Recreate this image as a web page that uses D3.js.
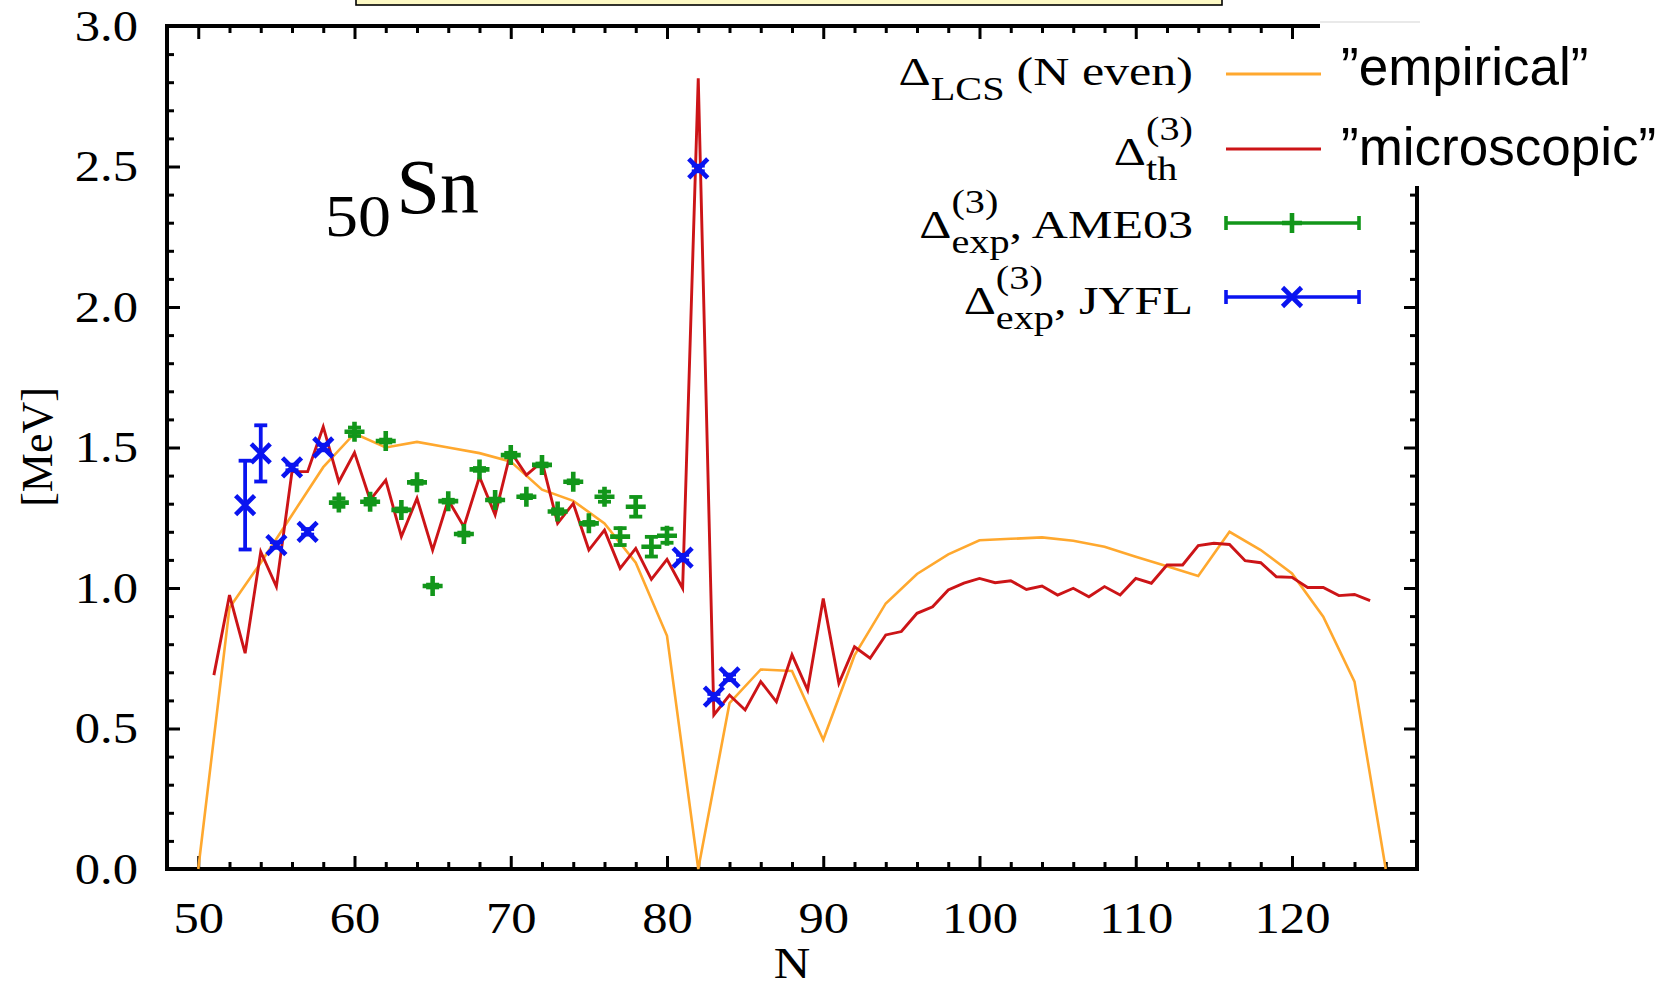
<!DOCTYPE html>
<html><head><meta charset="utf-8">
<script src="https://cdn.jsdelivr.net/npm/d3@7"></script>
<style>
html,body{margin:0;padding:0;background:#fff;}
svg{display:block;}
text{font-family:"Liberation Serif","Times New Roman",serif;fill:#000;}
text.sans{font-family:"Liberation Sans",Arial,sans-serif;}
</style></head>
<body>
<svg id="chart" width="1666" height="987"></svg>
<script>
// Δ_LCS (N even) — empirical pairing gap [MeV]
const lcsN   = [50,52,54,56,58,60,62,64,66,68,70,72,74,76,78,80,82,84,86,88,90,92,94,96,98,100,102,104,106,108,110,112,114,116,118,120,122,124,126];
const lcsGap = [0,0.93,1.09,1.26,1.43,1.55,1.50,1.52,1.50,1.48,1.45,1.35,1.31,1.23,1.09,0.83,0,0.59,0.71,0.705,0.46,0.76,0.945,1.05,1.12,1.17,1.175,1.18,1.168,1.147,1.111,1.077,1.043,1.20,1.135,1.052,0.898,0.667,0];

// Δ^(3)_th — microscopic three-point gap [MeV]
const thN   = [51,52,53,54,55,56,57,58,59,60,61,62,63,64,65,66,67,68,69,70,71,72,73,74,75,76,77,78,79,80,81,82,83,84,85,86,87,88,89,90,91,92,93,94,95,96,97,98,99,100,101,102,103,104,105,106,107,108,109,110,111,112,113,114,115,116,117,118,119,120,121,122,123,124,125];
const thGap = [0.69,0.975,0.768,1.129,1.005,1.414,1.414,1.574,1.378,1.482,1.313,1.384,1.183,1.319,1.135,1.313,1.218,1.396,1.26,1.485,1.402,1.45,1.23,1.301,1.135,1.206,1.07,1.141,1.031,1.102,0.999,2.814,0.548,0.619,0.566,0.667,0.595,0.762,0.637,0.963,0.661,0.791,0.75,0.833,0.845,0.91,0.933,0.993,1.017,1.034,1.019,1.026,0.995,1.007,0.975,0.999,0.969,1.005,0.975,1.034,1.017,1.082,1.082,1.151,1.159,1.155,1.097,1.09,1.04,1.038,1.002,1.002,0.973,0.977,0.955];

// Δ^(3)_exp from AME03 masses
const ameN   = [59,60,61,62,63,64,65,66,67,68,69,70,71,72,73,74,75,76,77,78,79,80];
const ameGap = [1.304,1.556,1.307,1.523,1.278,1.376,1.007,1.309,1.192,1.422,1.313,1.473,1.325,1.438,1.272,1.378,1.230,1.325,1.183,1.289,1.147,1.186];
const ameErr = [0.015,0.015,0.01,0.005,0.005,0.005,0.005,0.005,0.005,0.005,0.005,0.008,0.005,0.005,0.008,0.005,0.005,0.018,0.03,0.035,0.035,0.025];

// Δ^(3)_exp from JYFL mass measurements
const jyflN   = [53,54,55,56,57,58,81,82,83,84];
const jyflGap = [1.295,1.479,1.153,1.429,1.200,1.500,1.108,2.493,0.613,0.682];
const jyflErr = [0.158,0.10,0.01,0.01,0.01,0.01,0.01,0.01,0.01,0.01];

const xMajor = [50,60,70,80,90,100,110,120];
const xMinor = [52,54,56,58,62,64,66,68,72,74,76,78,82,84,86,88,92,94,96,98,102,104,106,108,112,114,116,118,122,124,126];
const yMajor = [0,0.5,1.0,1.5,2.0,2.5,3.0];
const yMinor = [0.1,0.2,0.3,0.4,0.6,0.7,0.8,0.9,1.1,1.2,1.3,1.4,1.6,1.7,1.8,1.9,2.1,2.2,2.3,2.4,2.6,2.7,2.8,2.9];

const C_LCS = "#ffa82e", C_TH = "#cc1417", C_AME = "#12961a", C_JYFL = "#0a14f0";

const svg = d3.select("#chart");
const x = d3.scaleLinear().domain([48,128]).range([167,1417]);
const y = d3.scaleLinear().domain([0,3]).range([869,26]);

// widen serif lettering horizontally by factor k
function widen(sel, k) {
  sel.each(function() {
    const w = this.getComputedTextLength();
    if (w > 0) d3.select(this).attr("textLength", w * k).attr("lengthAdjust", "spacingAndGlyphs");
  });
}

// header box cut by the top edge
svg.append("rect").attr("x", 356).attr("y", -4).attr("width", 866).attr("height", 9)
  .attr("fill", "#fdf9c4").attr("stroke", "#000").attr("stroke-width", 1.6);

// axes: inward ticks on all four sides
function tickAxis(axis, tx, ty, size, vals) {
  const g = svg.append("g").attr("transform", `translate(${tx},${ty})`)
    .call(axis.tickValues(vals).tickSize(size).tickFormat(""));
  g.select(".domain").remove();
  g.selectAll(".tick line").attr("stroke", "#000").attr("stroke-width", 3);
  return g;
}
tickAxis(d3.axisBottom(x), 0, 869, -13, xMajor);
tickAxis(d3.axisBottom(x), 0, 869, -7, xMinor);
tickAxis(d3.axisTop(x), 0, 26, -13, xMajor);
tickAxis(d3.axisTop(x), 0, 26, -7, xMinor);
tickAxis(d3.axisLeft(y), 167, 0, -13, yMajor.slice(1, -1));
tickAxis(d3.axisLeft(y), 167, 0, -7, yMinor);
tickAxis(d3.axisRight(y), 1417, 0, -13, yMajor.slice(1, -1));
tickAxis(d3.axisRight(y), 1417, 0, -7, yMinor);

svg.append("rect").attr("x", 167).attr("y", 26).attr("width", 1250).attr("height", 843)
  .attr("fill", "none").attr("stroke", "#000").attr("stroke-width", 4);

// tick labels
const gxl = svg.append("g").attr("transform", "translate(0,869)")
  .call(d3.axisBottom(x).tickValues(xMajor).tickSize(0).tickPadding(33).tickFormat(d3.format("d")));
gxl.select(".domain").remove();
gxl.selectAll("text").attr("font-size", 44).attr("fill", "#000");
widen(gxl.selectAll("text"), 1.15);

const gyl = svg.append("g").attr("transform", "translate(167,0)")
  .call(d3.axisLeft(y).tickValues(yMajor).tickSize(0).tickPadding(29).tickFormat(d3.format(".1f")));
gyl.select(".domain").remove();
gyl.selectAll("text").attr("font-size", 44).attr("fill", "#000");
widen(gyl.selectAll("text"), 1.15);

// axis titles
svg.append("text").attr("x", 792).attr("y", 978).attr("text-anchor", "middle")
  .attr("font-size", 44).text("N").call(widen, 1.15);
svg.append("text").attr("transform", "translate(52,447) rotate(-90)")
  .attr("text-anchor", "middle").attr("font-size", 44).text("[MeV]");

// nucleus label
const z50 = svg.append("text").attr("x", 325).attr("y", 236).attr("font-size", 60).text("50").call(widen, 1.1);
const zEnd = 325 + z50.node().getComputedTextLength() * 1.1;
svg.append("text").attr("x", zEnd - 1).attr("y", 213).attr("font-size", 78).text("Sn");

// curves
const line = d3.line().x(d => x(d[0])).y(d => y(d[1]));
svg.append("path").datum(lcsN.map((n, i) => [n, lcsGap[i]]))
  .attr("d", line).attr("fill", "none").attr("stroke", C_LCS).attr("stroke-width", 2.6);
svg.append("path").datum(thN.map((n, i) => [n, thGap[i]]))
  .attr("d", line).attr("fill", "none").attr("stroke", C_TH).attr("stroke-width", 2.9);

// error bars + markers
function drawMarker(g, cx, cy, shape) {
  const m = g.append("path").attr("stroke-width", 4.6);
  if (shape === "plus") m.attr("d", `M${cx - 10},${cy}H${cx + 10}M${cx},${cy - 10}V${cy + 10}`);
  else m.attr("d", `M${cx - 9.5},${cy - 9.5}L${cx + 9.5},${cy + 9.5}M${cx - 9.5},${cy + 9.5}L${cx + 9.5},${cy - 9.5}`);
}
function errPoints(ns, vs, es, color, shape) {
  const g = svg.append("g").attr("stroke", color).attr("stroke-width", 3.8).attr("fill", "none");
  ns.forEach((n, i) => {
    const cx = x(n), y0 = y(vs[i] - es[i]), y1 = y(vs[i] + es[i]), cy = y(vs[i]);
    g.append("line").attr("x1", cx).attr("x2", cx).attr("y1", y0).attr("y2", y1);
    g.append("line").attr("x1", cx - 6.5).attr("x2", cx + 6.5).attr("y1", y0).attr("y2", y0);
    g.append("line").attr("x1", cx - 6.5).attr("x2", cx + 6.5).attr("y1", y1).attr("y2", y1);
    drawMarker(g, cx, cy, shape);
  });
}
errPoints(ameN, ameGap, ameErr, C_AME, "plus");
errPoints(jyflN, jyflGap, jyflErr, C_JYFL, "cross");

// panel over the upper-right corner carrying the plain-language names
svg.append("rect").attr("x", 1320).attr("y", 21).attr("width", 346).attr("height", 165).attr("fill", "#fff");
svg.append("line").attr("x1", 1320).attr("x2", 1420).attr("y1", 22).attr("y2", 22).attr("stroke", "#e2e2e2").attr("stroke-width", 1.5);

// legend labels, right-aligned
const LX = 1193, MAIN = 41, SCR = 33, SX = 1.22;
function legendRow(y0, sup, sub, rest, restGap) {
  const g = svg.append("g");
  const put = (str, px, py, size) => {
    const t = g.append("text").attr("x", px).attr("y", py).attr("font-size", size).text(str);
    const w = t.node().getComputedTextLength();
    t.attr("textLength", w * SX).attr("lengthAdjust", "spacingAndGlyphs");
    return w * SX;
  };
  let cx = put("Δ", 0, y0, MAIN);
  let wsup = 0, wsub = 0;
  if (sup) wsup = put(sup, cx, y0 - 25, SCR);
  if (sub) wsub = put(sub, cx, y0 + 15, SCR);
  cx += Math.max(wsup, wsub);
  if (rest) cx += restGap + put(rest, cx + restGap, y0, MAIN);
  g.attr("transform", `translate(${LX - cx},0)`);
}
legendRow(85, null, "LCS", "(N even)", 12);
legendRow(165, "(3)", "th", null, 0);
legendRow(238, "(3)", "exp", ", AME03", 0);
legendRow(314, "(3)", "exp", ", JYFL", 0);

// legend samples
const lg = svg.append("g");
lg.append("line").attr("x1", 1226).attr("x2", 1321).attr("y1", 74).attr("y2", 74).attr("stroke", C_LCS).attr("stroke-width", 2.8);
lg.append("line").attr("x1", 1226).attr("x2", 1321).attr("y1", 149).attr("y2", 149).attr("stroke", C_TH).attr("stroke-width", 2.8);
[[223, C_AME, "plus"], [297, C_JYFL, "cross"]].forEach(([ly, c, shape]) => {
  const g = lg.append("g").attr("stroke", c).attr("stroke-width", 3.6).attr("fill", "none");
  g.append("line").attr("x1", 1226).attr("x2", 1359).attr("y1", ly).attr("y2", ly);
  g.append("line").attr("x1", 1226).attr("x2", 1226).attr("y1", ly - 7).attr("y2", ly + 7);
  g.append("line").attr("x1", 1359).attr("x2", 1359).attr("y1", ly - 7).attr("y2", ly + 7);
  drawMarker(g, 1292, ly, shape);
});

// plain-language names
svg.append("text").attr("class", "sans").attr("x", 1341).attr("y", 85)
  .attr("font-size", 53).text("\u201Dempirical\u201D");
svg.append("text").attr("class", "sans").attr("x", 1341).attr("y", 165)
  .attr("font-size", 53).text("\u201Dmicroscopic\u201D");
</script>
</body></html>
